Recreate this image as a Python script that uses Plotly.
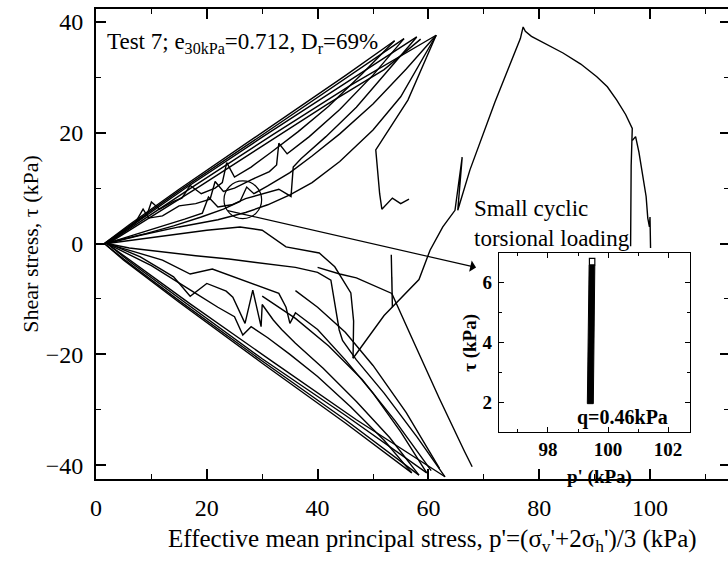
import plotly.graph_objects as go

# ---------------- data (p' in kPa, tau in kPa) ----------------
# loading paths along the positive envelope
up_load_1_p = [1.5, 6, 15, 30, 45, 53.9]
up_load_1_t = [0, 3.4, 9.8, 20.0, 30.3, 36.6]
up_load_2_p = [1.5, 6, 15, 30, 45, 55.6]
up_load_2_t = [0, 3.2, 9.5, 19.6, 29.8, 37.0]
up_load_3_p = [1.8, 7, 16, 30, 45, 57.9]
up_load_3_t = [0, 3.6, 9.9, 19.2, 29.0, 37.3]
up_load_4_p = [2.0, 8, 18, 32, 46, 61.4]
up_load_4_t = [0, 4.0, 10.6, 19.7, 28.6, 37.6]
up_load_5_p = [2.2, 9, 19, 30, 42, 52, 58.6]
up_load_5_t = [0, 4.2, 10.5, 17.6, 25.3, 31.4, 36.9]

# unloading paths from the positive peaks
up_ret_1_p = [61.4, 56, 50, 44, 39, 35, 31, 28.5, 27.2, 26, 23, 19, 14, 9, 4, 2]
up_ret_1_t = [37.6, 31.5, 25.2, 19.8, 15.8, 12.8, 10.4, 9.0, 10.2, 7.6, 6.2, 4.8, 3.2, 1.8, 0.6, 0]
up_ret_2_p = [57.9, 53, 47, 41.5, 37, 35.6, 35.2, 33, 30, 27, 24.5, 22, 20.3, 19.2, 16, 12, 7, 2.5]
up_ret_2_t = [37.3, 31.5, 24.6, 19.3, 15.3, 13.8, 8.5, 9.8, 9.0, 8.1, 7.0, 6.6, 8.4, 5.5, 4.4, 3.2, 1.6, 0.2]
up_ret_3_p = [55.6, 50, 44, 38.5, 34.5, 33.0, 32.6, 31.3, 28, 25, 23, 21.5, 20.6, 18, 15, 12, 9.5, 8.5, 7, 4, 2]
up_ret_3_t = [37.0, 30.4, 24.2, 19.3, 16.2, 18.1, 14.2, 13.0, 11.5, 10.0, 9.4, 11.2, 8.0, 7.2, 6.8, 5.0, 4.6, 6.2, 3.6, 1.6, 0]
up_ret_4_p = [53.9, 48, 42, 36.5, 31.5, 28, 25, 23.6, 22.8, 21.5, 19, 17, 15.5, 14, 11.5, 10, 9.2, 8, 5, 2]
up_ret_4_t = [36.6, 30.6, 24.8, 20.2, 16.4, 13.8, 12.0, 14.6, 11.0, 10.0, 9.0, 10.5, 8.2, 7.6, 6.2, 7.5, 5.2, 4.4, 2.2, 0]
up_ret_5_p = [61.4, 56.3, 50.5, 51.2, 51.6, 53.5, 55.0, 56.5]
up_ret_5_t = [37.6, 25.9, 16.9, 9.0, 6.2, 8.2, 7.2, 8.0]
up_low_p = [2, 8, 15, 22, 27, 31, 35, 39, 44, 50, 55, 61.4]
up_low_t = [0, 1.5, 3.0, 4.3, 5.6, 7.0, 8.8, 11.0, 14.8, 20.5, 26.5, 37.6]
mid_p = [2, 8, 14, 20, 26, 30, 34.3, 40.3, 43.1, 46.0, 46.5, 46.4]
mid_t = [0, 0.8, 1.6, 2.4, 3.0, 2.4, -0.6, -1.7, -4.2, -8.9, -14.0, -20.7]

# loading paths along the negative envelope
low_load_1_p = [1.5, 5, 15, 30, 45, 57.0]
low_load_1_t = [0, -3.0, -10.6, -21.6, -32.4, -41.4]
low_load_2_p = [1.5, 5, 15, 30, 45, 58.3]
low_load_2_t = [0, -2.8, -10.3, -21.2, -31.8, -41.8]
low_load_3_p = [2, 6, 16, 30, 45, 59.7]
low_load_3_t = [0, -3.2, -10.6, -20.8, -31.0, -41.4]
low_load_4_p = [2, 7, 17, 32, 47, 63.0]
low_load_4_t = [0, -3.6, -10.9, -21.4, -31.8, -42.1]
low_mid_1_p = [30, 36, 42, 48, 54, 60.5]
low_mid_1_t = [-9.5, -13.5, -18.5, -24.5, -32.0, -41.0]
low_mid_2_p = [36, 40, 45, 50, 56, 62.0]
low_mid_2_t = [-8.5, -11.5, -16.0, -22.0, -30.5, -40.6]
low_long_p = [40, 44, 47, 50, 53.4, 57, 62, 66.5, 67.9]
low_long_t = [-4.3, -5.5, -6.2, -7.5, -9.0, -17, -28, -37.5, -40.3]
spike_p = [53.3, 53.5, 53.4]
spike_t = [-2.0, -11.5, -6.0]

# unloading paths from the negative troughs
low_ret_1_p = [57.0, 52, 46, 40, 35, 31, 28, 26.5, 25, 22, 18, 14, 10, 6, 2]
low_ret_1_t = [-41.4, -35.5, -29.5, -24, -20, -17, -15, -16.5, -13.2, -11.5, -9, -6.5, -4, -2, 0]
low_ret_2_p = [58.3, 53, 47, 41, 36, 33.5, 32, 30, 29.8, 28.3, 26.9, 24.7, 23.5, 20, 17, 14, 12, 8, 3]
low_ret_2_t = [-41.8, -35, -28.5, -22.5, -18, -15.5, -13.8, -11, -15, -8.4, -14.4, -9.7, -8.6, -7.2, -9.5, -6.0, -4.8, -2.4, -0.3]
low_ret_3_p = [59.7, 55, 50, 45, 40, 36, 35, 34.3, 33, 29, 25, 21, 17, 12, 7, 2.5]
low_ret_3_t = [-41.4, -34, -27, -21, -15.5, -12.5, -14.4, -11.5, -9.0, -7.5, -6.0, -4.6, -5.5, -3.0, -1.5, -0.2]
low_ret_4_p = [63.0, 58, 52, 47, 44.5, 43.9, 42.4, 40, 36, 30, 24, 18, 12, 6, 2]
low_ret_4_t = [-42.1, -35, -27, -21, -17.5, -15.6, -6.6, -5.2, -4.3, -3.5, -2.8, -2.2, -1.5, -0.8, 0]

# first large excursion (from p'~97 to the peak and back)
exc_p = [96.5, 96.5, 96.6, 96.8, 95.6, 94.0, 92.3, 90.4, 87.5, 84.3, 81.0, 78.6, 77.5, 77.1,
         76.6, 72, 67.5, 66.3, 65.3, 66.1, 64.8, 62.6, 60.3, 58.3, 52, 46.4]
exc_t = [-0.5, 10.6, 14, 20.8, 23.3, 25.9, 28.3, 30.1, 32.4, 34.4, 36.2, 37.4, 38.3, 39.1,
         37.0, 25.5, 13.3, 9.5, 6.0, 15.6, 6.0, 3.0, -1.2, -6.5, -13.0, -20.7]
right_p = [96.8, 97.4, 98.0, 98.7, 99.3, 99.6, 99.9, 100.0, 100.1, 100.1]
right_t = [18.6, 19.3, 16.5, 12.5, 8.5, 4.6, 3.0, 4.8, 1.0, -0.8]

# inset: small cyclic torsional loading at p' ~ 99.4 kPa
inset_band_p = [99.31, 99.51, 99.56, 99.37, 99.31]
inset_band_t = [1.95, 1.95, 6.6, 6.6, 1.95]
inset_top_p = [99.38, 99.56, 99.56, 99.38, 99.38]
inset_top_t = [6.6, 6.6, 6.82, 6.82, 6.6]

segments = [
    (up_load_1_p, up_load_1_t), (up_load_2_p, up_load_2_t), (up_load_3_p, up_load_3_t),
    (up_load_4_p, up_load_4_t), (up_load_5_p, up_load_5_t),
    (up_ret_1_p, up_ret_1_t), (up_ret_2_p, up_ret_2_t), (up_ret_3_p, up_ret_3_t),
    (up_ret_4_p, up_ret_4_t), (up_ret_5_p, up_ret_5_t), (up_low_p, up_low_t), (mid_p, mid_t),
    (low_load_1_p, low_load_1_t), (low_load_2_p, low_load_2_t), (low_load_3_p, low_load_3_t),
    (low_load_4_p, low_load_4_t), (low_mid_1_p, low_mid_1_t), (low_mid_2_p, low_mid_2_t),
    (low_long_p, low_long_t), (spike_p, spike_t),
    (low_ret_1_p, low_ret_1_t), (low_ret_2_p, low_ret_2_t), (low_ret_3_p, low_ret_3_t),
    (low_ret_4_p, low_ret_4_t), (exc_p, exc_t), (right_p, right_t),
]

xs, ys = [], []
for p, t in segments:
    xs += list(p) + [None]
    ys += list(t) + [None]

FONT = "Liberation Serif"

fig = go.Figure()
fig.add_trace(go.Scatter(x=xs, y=ys, mode="lines", line=dict(color="black", width=1.4),
                         hoverinfo="skip", showlegend=False))
fig.add_trace(go.Scatter(x=inset_band_p, y=inset_band_t, mode="lines", fill="toself",
                         fillcolor="black", line=dict(color="black", width=1),
                         xaxis="x2", yaxis="y2", showlegend=False))
fig.add_trace(go.Scatter(x=inset_top_p, y=inset_top_t, mode="lines", fill="toself",
                         fillcolor="white", line=dict(color="black", width=1.2),
                         xaxis="x2", yaxis="y2", showlegend=False))
# keeps the right-hand tick axis drawn
fig.add_trace(go.Scatter(x=[None], y=[None], yaxis="y3", showlegend=False))

axis_common = dict(showgrid=False, zeroline=False, color="black", linecolor="black",
                   tickcolor="black")

fig.update_layout(
    width=728, height=564,
    margin=dict(l=96, r=0, t=9, b=85),
    paper_bgcolor="white", plot_bgcolor="white",
    font=dict(family=FONT, color="black", size=22),
    xaxis=dict(range=[0, 114.08], tickvals=[0, 20, 40, 60, 80, 100], ticks="inside",
               ticklen=10, tickwidth=1.5, showline=True, linewidth=1.8, mirror="ticks",
               minor=dict(ticks="inside", ticklen=5, tickwidth=1.3, dtick=10, tick0=0),
               tickfont=dict(size=24, family=FONT), ticklabelstandoff=6, **axis_common),
    yaxis=dict(range=[-42.5, 42.34], tickvals=[-40, -20, 0, 20, 40], ticks="inside",
               ticklen=10, tickwidth=1.5, showline=True, linewidth=1.8,
               minor=dict(ticks="inside", ticklen=5, tickwidth=1.3, dtick=10, tick0=0),
               tickfont=dict(size=24, family=FONT), ticklabelstandoff=6, **axis_common),
    yaxis3=dict(range=[-42.5, 42.34], overlaying="y", side="right", anchor="x",
                tickvals=[-40, -20, 0, 20, 40], ticks="inside", ticklen=8, tickwidth=1.5,
                showticklabels=False, showline=False,
                minor=dict(ticks="inside", ticklen=4, tickwidth=1.2, dtick=10, tick0=0),
                **axis_common),
    xaxis2=dict(domain=[0.6377, 0.9399], anchor="y2", range=[96.37, 102.73],
                tickvals=[98, 100, 102], ticks="inside", ticklen=5, tickwidth=1.2,
                showline=True, linewidth=1.3, mirror="ticks",
                minor=dict(ticks="inside", ticklen=3, dtick=1, tick0=0),
                tickfont=dict(size=19, family=FONT, weight="bold"), ticklabelstandoff=0,
                **axis_common),
    yaxis2=dict(domain=[0.1, 0.4809], anchor="x2", range=[1.0, 7.0],
                tickvals=[2, 4, 6], ticks="inside", ticklen=5, tickwidth=1.2,
                showline=True, linewidth=1.3, mirror="ticks",
                minor=dict(ticks="inside", ticklen=3, dtick=1, tick0=0),
                tickfont=dict(size=19, family=FONT, weight="bold"), ticklabelstandoff=2,
                **axis_common),
)

annotations = [
    dict(text="Test 7; e<sub>30kPa</sub>=0.712, D<sub>r</sub>=69%", x=1.6, y=36.2,
         xref="x", yref="y", xanchor="left", yanchor="middle", showarrow=False,
         font=dict(size=23, family=FONT)),
    dict(text="Small cyclic<br>torsional loading", x=67.8, y=3.6, xref="x", yref="y",
         xanchor="left", yanchor="middle", align="left", showarrow=False,
         font=dict(size=23, family=FONT)),
    dict(text="Shear stress, τ (kPa)", x=-0.105, y=0.5, xref="paper", yref="paper",
         textangle=-90, showarrow=False, xanchor="center", yanchor="middle",
         font=dict(size=22, family=FONT)),
    dict(text="Effective mean principal stress, p'=(σ<sub>v</sub>'+2σ<sub>h</sub>')/3 (kPa)",
         x=0.533, y=-0.13, xref="paper", yref="paper", showarrow=False,
         xanchor="center", yanchor="middle", font=dict(size=25, family=FONT)),
    dict(text="<b>q=0.46kPa</b>", x=100.47, y=1.5, xref="x2", yref="y2", showarrow=False,
         xanchor="center", yanchor="middle", font=dict(size=20, family=FONT)),
    dict(text="<b>p' (kPa)</b>", x=0.797, y=0.004, xref="paper", yref="paper",
         showarrow=False, xanchor="center", yanchor="middle", font=dict(size=19, family=FONT)),
    dict(text="<b>τ (kPa)</b>", x=0.592, y=0.29, xref="paper", yref="paper",
         textangle=-90, showarrow=False, xanchor="center", yanchor="middle",
         font=dict(size=19, family=FONT)),
    dict(text="", x=68.6, y=-4.3, ax=23.5, ay=6.0, xref="x", yref="y", axref="x", ayref="y",
         showarrow=True, arrowhead=1, arrowsize=1.6, arrowwidth=1.2, arrowcolor="black"),
]
fig.update_layout(annotations=annotations)

fig.add_shape(type="circle", xref="x", yref="y", x0=23.1, x1=29.9, y0=4.5, y1=11.3,
              line=dict(color="black", width=1.2))

fig.write_html("out.html")
